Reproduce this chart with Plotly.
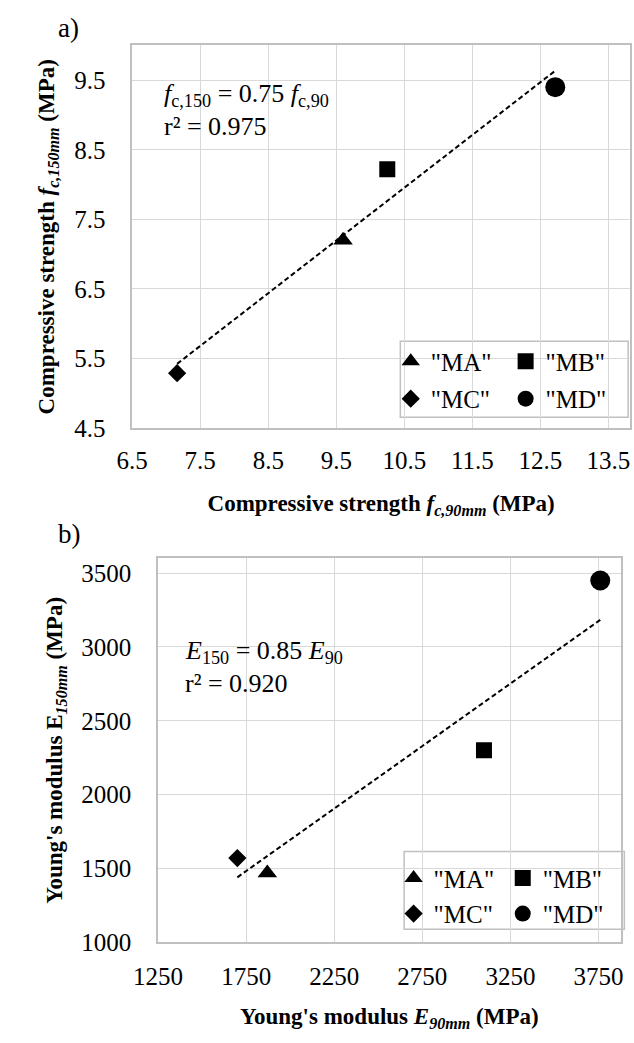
import plotly.graph_objects as go
import numpy as np

W, H = 634, 1043

# ---- data ----
names = ['"MA"', '"MB"', '"MC"', '"MD"']
symbols = ['triangle-up', 'square', 'diamond', 'circle']
fc90 = [9.60, 10.25, 7.16, 12.72]
fc150 = [7.20, 8.22, 5.29, 9.40]
E90 = [1870, 3100, 1700, 3760]
E150 = [1468, 2300, 1570, 3450]
xticks_a = [6.5, 7.5, 8.5, 9.5, 10.5, 11.5, 12.5, 13.5]
yticks_a = [4.5, 5.5, 6.5, 7.5, 8.5, 9.5]
xticks_b = [1250, 1750, 2250, 2750, 3250, 3750]
yticks_b = [1000, 1500, 2000, 2500, 3000, 3500]

FONT = "Liberation Serif, Times New Roman, Times, serif"
msizes = [17, 16, 14, 20]
legend_of = {0: ("legend", "legend3"), 1: ("legend2", "legend4"),
             2: ("legend", "legend3"), 3: ("legend2", "legend4")}


def fx(p):
    return p / W


def fy(p):
    return 1 - p / H


fig = go.Figure()

# trend lines (least squares through origin)
for xs, ys, xa, ya in [(fc90, fc150, "x", "y"), (E90, E150, "x2", "y2")]:
    xs_a, ys_a = np.array(xs, float), np.array(ys, float)
    k = (xs_a * ys_a).sum() / (xs_a ** 2).sum()
    xl = np.array([xs_a.min(), xs_a.max()])
    fig.add_trace(go.Scatter(x=xl, y=k * xl, mode="lines", xaxis=xa, yaxis=ya,
                             line=dict(color="black", width=2, dash="5px,3px"),
                             showlegend=False, hoverinfo="skip"))

for i in range(4):
    fig.add_trace(go.Scatter(x=[fc90[i]], y=[fc150[i]], mode="markers", name=names[i],
                             marker=dict(symbol=symbols[i], color="black", size=msizes[i]),
                             xaxis="x", yaxis="y", legend=legend_of[i][0],
                             legendgroup="a" + str(i)))
for i in range(4):
    fig.add_trace(go.Scatter(x=[E90[i]], y=[E150[i]], mode="markers", name=names[i],
                             marker=dict(symbol=symbols[i], color="black", size=msizes[i]),
                             xaxis="x2", yaxis="y2", legend=legend_of[i][1],
                             legendgroup="b" + str(i)))

axcommon = dict(showgrid=True, gridcolor="#d9d9d9", gridwidth=1.3, showline=True,
                linecolor="#c0c0c0", linewidth=1.5, mirror=True, zeroline=False,
                ticks="", ticklabeloverflow="allow",
                tickfont=dict(family=FONT, size=25, color="black"))
title_font = dict(family=FONT, size=23, color="black")

fig.update_layout(
    width=W, height=H, margin=dict(l=0, r=0, t=0, b=0),
    paper_bgcolor="white", plot_bgcolor="white",
    xaxis=dict(domain=[fx(112), fx(632)], range=[6.5, 13.82], tickvals=xticks_a,
               tickformat=".1f", anchor="y", ticklabelstandoff=9,
               title=dict(text="<b>Compressive strength <i>f<sub>c,90mm</sub></i> (MPa)</b>",
                          font=title_font, standoff=22), **axcommon),
    yaxis=dict(domain=[fy(434), fy(46)], range=[4.5, 10.0], tickvals=yticks_a,
               tickformat=".1f", anchor="x", ticklabelstandoff=20,
               title=dict(text="<b>Compressive strength <i>f<sub>c,150mm</sub></i> (MPa)</b>",
                          font=title_font, standoff=13), **axcommon),
    xaxis2=dict(domain=[fx(139), fx(622)], range=[1250, 3875], tickvals=xticks_b,
                anchor="y2", ticklabelstandoff=11,
                title=dict(text="<b>Young's modulus <i>E<sub>90mm</sub></i> (MPa)</b>",
                           font=title_font, standoff=19), **axcommon),
    yaxis2=dict(domain=[fy(955), fy(566)], range=[1000, 3600], tickvals=yticks_b,
                anchor="x2", ticklabelstandoff=20,
                title=dict(text="<b>Young's modulus E<sub><i>150mm</i></sub> (MPa)</b>",
                           font=title_font, standoff=12), **axcommon),
    showlegend=True,
)

legfont = dict(family=FONT, size=25, color="black")
for key, xp, yp, gap in [("legend", 382, 343, 2), ("legend2", 502, 343, 2),
                         ("legend3", 385, 867, 0), ("legend4", 499, 867, 0)]:
    fig.update_layout({key: dict(x=fx(xp), y=fy(yp), xanchor="left", yanchor="top",
                                 bgcolor="rgba(0,0,0,0)", borderwidth=0, font=legfont,
                                 tracegroupgap=gap, itemwidth=30)})

# white boxes (text box, legend boxes)
shapes = [
    dict(type="rect", xref="paper", yref="paper", x0=fx(130), x1=fx(340), y0=fy(146), y1=fy(66),
         fillcolor="white", line=dict(width=0), layer="between"),
    dict(type="rect", xref="paper", yref="paper", x0=fx(152), x1=fx(335), y0=fy(714), y1=fy(630),
         fillcolor="white", line=dict(width=0), layer="between"),
    dict(type="rect", xref="paper", yref="paper", x0=fx(392), x1=fx(630), y0=fy(423), y1=fy(346),
         fillcolor="white", line=dict(width=1.5, color="#c0c0c0"), layer="between"),
    dict(type="rect", xref="paper", yref="paper", x0=fx(396), x1=fx(626), y0=fy(942), y1=fy(863),
         fillcolor="white", line=dict(width=1.5, color="#c0c0c0"), layer="between"),
]
fig.update_layout(shapes=shapes)

afont = dict(family=FONT, size=26, color="black")
ann = [
    dict(text="a)", x=fx(32), y=fy(28), xanchor="left", yanchor="middle",
         font=dict(family=FONT, size=27, color="black")),
    dict(text="b)", x=fx(32), y=fy(541), xanchor="left", yanchor="middle",
         font=dict(family=FONT, size=27, color="black")),
    dict(text="<i>f</i><sub>c,150</sub> = 0.75 <i>f</i><sub>c,90</sub>", x=fx(143), y=fy(96),
         xanchor="left", yanchor="middle", font=afont),
    dict(text="r² = 0.975", x=fx(143), y=fy(128), xanchor="left", yanchor="middle", font=afont),
    dict(text="<i>E</i><sub>150</sub> = 0.85 <i>E</i><sub>90</sub>", x=fx(165), y=fy(661),
         xanchor="left", yanchor="middle", font=afont),
    dict(text="r² = 0.920", x=fx(165), y=fy(693), xanchor="left", yanchor="middle", font=afont),
]
for a in ann:
    a.update(xref="paper", yref="paper", showarrow=False)
fig.update_layout(annotations=ann)

fig.write_html("out.html", config={"displayModeBar": False},
               post_script="document.body.style.margin='0';document.body.style.overflow='hidden';")
